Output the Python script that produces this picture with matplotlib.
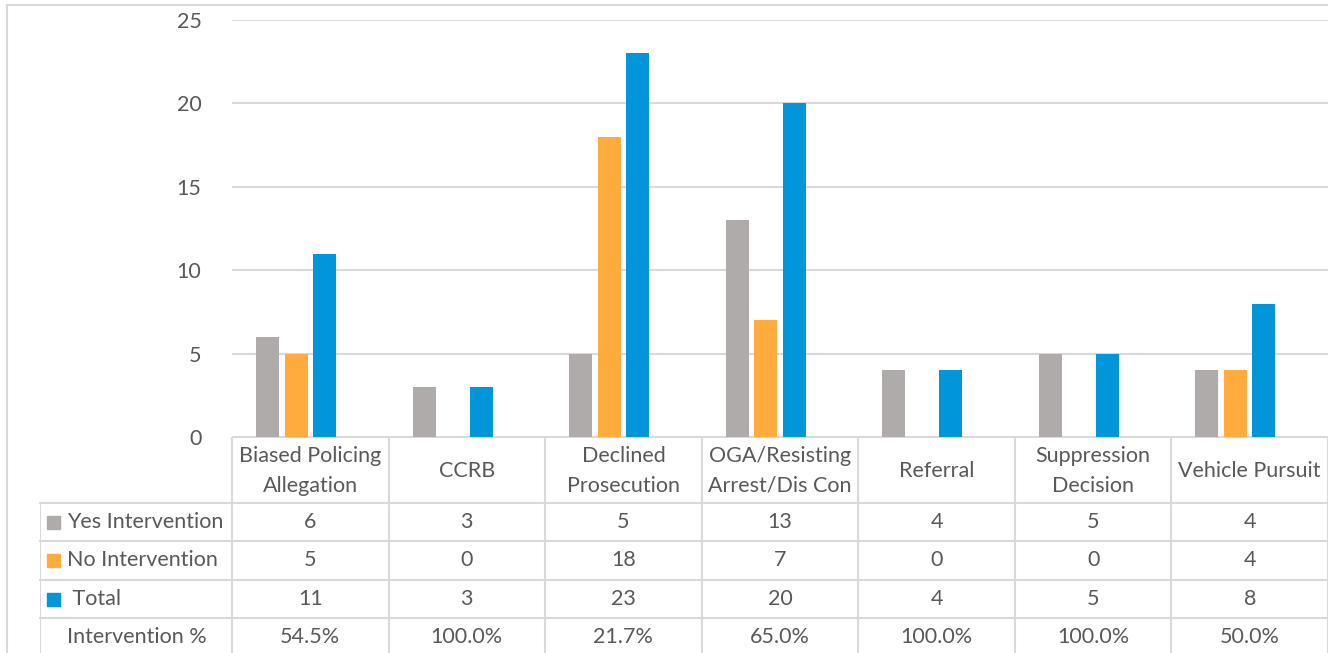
import numpy as np
import matplotlib.pyplot as plt
from matplotlib.patches import Rectangle

categories = ['Biased Policing\nAllegation', 'CCRB', 'Declined\nProsecution',
              'OGA/Resisting\nArrest/Dis Con', 'Referral', 'Suppression\nDecision',
              'Vehicle Pursuit']
yes_intervention = [6, 3, 5, 13, 4, 5, 4]
no_intervention = [5, 0, 18, 7, 0, 0, 4]
total = [11, 3, 23, 20, 4, 5, 8]
intervention_pct = ['54.5%', '100.0%', '21.7%', '65.0%', '100.0%', '100.0%', '50.0%']

series_names = ['Yes Intervention', 'No Intervention', ' Total']
series_values = [yes_intervention, no_intervention, total]
series_colors = ['#AEABAA', '#FFAB3E', '#0096D9']

W, H = 1328, 653
textColor = '#595959'
lineColor = '#D9D9D9'
fs = 15.5
plt.rcParams['font.family'] = ['Lato', 'DejaVu Sans']

fig = plt.figure(figsize=(W / 100, H / 100), dpi=100)

def fx(px):
	return px / W

def fy(py):
	return 1 - py / H

# bar area
ax = fig.add_axes([fx(232), fy(437), fx(W) - fx(232), fy(20) - fy(437)])
x = np.arange(len(categories))
colW = (W - 232) / len(categories)
barWidth = 23 / colW
step = 28.5 / colW
# four slots per group (the % row takes an empty slot), so the bars sit left of centre
for i in range(len(series_values)):
	vals = series_values[i]
	ax.bar(x + (i - 1.5) * step, vals, barWidth, color=series_colors[i], zorder=3)
ax.set_xlim(-0.5, len(categories) - 0.5)
ax.set_ylim(0, 25)
ax.set_yticks(range(0, 26, 5))
ax.yaxis.grid(True, color=lineColor, linewidth=1.5, zorder=0)
ax.tick_params(axis='y', length=0, pad=22, labelsize=fs, labelcolor=textColor)
ax.tick_params(axis='x', length=0, labelbottom=False)
for s in ax.spines.values():
	s.set_visible(False)

# data table, in the same column units as the bars
labelW = (232 - 40) / colW
tab = fig.add_axes([fx(40), 0, fx(W) - fx(40), fy(437)])
tab.set_xlim(-0.5 - labelW, len(categories) - 0.5)
tab.set_ylim(H, 437)
tab.axis('off')

rowTops = [503, 541, 580, 618, 656]
lw = 1.5
tab.plot([-0.5, len(categories) - 0.5], [437, 437], color=lineColor, lw=lw)
for r in rowTops:
	tab.plot([-0.5 - labelW, len(categories) - 0.5], [r, r], color=lineColor, lw=lw, clip_on=False)
for c in range(len(categories) + 1):
	tab.plot([c - 0.5, c - 0.5], [437, H], color=lineColor, lw=lw)
tab.plot([-0.5 - labelW, -0.5 - labelW], [503, H], color=lineColor, lw=lw)

for c in range(len(categories)):
	tab.text(c, 471, categories[c], ha='center', va='center', fontsize=fs,
		color=textColor, linespacing=1.6)

rowValues = [yes_intervention, no_intervention, total, intervention_pct]
rowLabels = series_names + ['Intervention %']
for r in range(len(rowValues)):
	yc = (rowTops[r] + rowTops[r + 1]) / 2
	for c in range(len(categories)):
		tab.text(c, yc, str(rowValues[r][c]), ha='center', va='center', fontsize=fs, color=textColor)
	lx = -0.5 - labelW + 27 / colW
	tab.text(lx, yc, rowLabels[r], ha='left', va='center', fontsize=fs, color=textColor)
	if r < len(series_colors):
		sq = 13 / colW
		tab.add_patch(Rectangle((-0.5 - labelW + 7 / colW, yc - 6.5), sq, 13,
			color=series_colors[r], clip_on=False))

# outer chart border
fig.add_artist(plt.Line2D([fx(7), 1], [fy(5), fy(5)], color=lineColor, lw=1.5))
fig.add_artist(plt.Line2D([fx(7), fx(7)], [fy(5), 0], color=lineColor, lw=1.5))

fig.savefig('out.png', dpi=100)
